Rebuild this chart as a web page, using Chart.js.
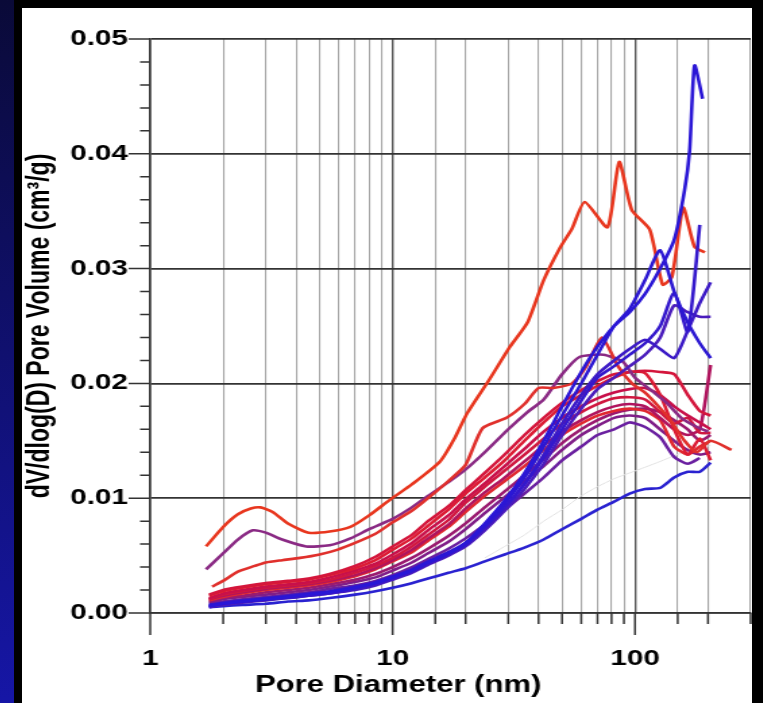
<!DOCTYPE html>
<html>
<head>
  <title>Pore Size Distribution</title>
  <style>
    body { margin: 0; width: 763px; height: 703px; background: #000; position: relative; overflow: hidden; }
    .strip { position: absolute; left: 0; top: 0; width: 14px; height: 703px; background: linear-gradient(#0a0a38, #1616a6); }
    .panel { position: absolute; left: 22px; top: 8px; width: 730px; height: 695px; background: #fff; overflow: hidden; }
    /* the source slide is stretched sideways, so the chart is too */
    .stretch { width: 541px; height: 695px; transform: scaleX(1.3494); transform-origin: 0 0; }
    #chart { display: block; }
  </style>
</head>
<body>
  <div class="strip"></div>
  <div class="panel"><div class="stretch"><canvas id="chart" width="541" height="695"></canvas></div></div>
  <script src="https://cdn.jsdelivr.net/npm/chart.js"></script>
  <script>
    // shared diameter grid (nm) for most samples
    const diam = [1.75, 2.0, 2.4, 3.0, 3.7, 4.5, 5.5, 7, 8.5, 10, 12, 14, 17, 20, 24, 29, 35, 42, 50, 60, 70, 82, 95, 110, 127, 145, 165, 185, 205, 250];

    // dV/dlog(D) values on the shared grid
    const vR1 = [.0016, .0020, .0023, .0026, .0028, .0030, .0034, .0041, .0049, .0058, .0068, .0080, .0093, .0107, .0122, .0138, .0155, .0170, .0183, .0194, .0202, .0208, .0210, .0211, .0210, .0208, .0190, .0176, .0172, null];
    const vR2 = [.0015, .0019, .0022, .0025, .0027, .0029, .0033, .0039, .0046, .0055, .0065, .0076, .0090, .0104, .0118, .0133, .0150, .0166, .0180, .0190, .0198, .0205, .0210, .0209, .0190, .0160, .0138, .0152, .0133, null];
    const vR3 = [.0013, .0017, .0020, .0023, .0025, .0027, .0031, .0037, .0043, .0051, .0061, .0072, .0085, .0099, .0113, .0128, .0143, .0158, .0170, .0180, .0187, .0192, .0195, .0196, .0190, .0180, .0172, .0166, .0160, null];
    const vR4 = [.0012, .0016, .0019, .0022, .0024, .0026, .0029, .0035, .0041, .0048, .0058, .0068, .0081, .0096, .0110, .0124, .0138, .0152, .0165, .0175, .0182, .0187, .0188, .0186, .0175, .0165, .0170, .0157, .0157, null];
    const vR5 = [.0012, .0015, .0018, .0021, .0023, .0025, .0028, .0033, .0039, .0046, .0055, .0065, .0077, .0091, .0105, .0118, .0132, .0146, .0158, .0168, .0175, .0180, .0182, .0180, .0170, .0160, .0155, .0160, .0216, null];
    const vR6 = [.0011, .0014, .0017, .0020, .0022, .0024, .0027, .0032, .0038, .0045, .0053, .0063, .0075, .0088, .0102, .0115, .0128, .0142, .0155, .0165, .0172, .0176, .0178, .0176, .0168, .0145, .0138, .0145, .0150, null];
    const vP1 = [.0010, .0013, .0015, .0018, .0020, .0022, .0025, .0029, .0034, .0040, .0048, .0056, .0067, .0078, .0092, .0106, .0120, .0134, .0148, .0160, .0168, .0174, .0177, .0178, .0175, .0168, .0160, .0150, .0155, null];
    const vP2 = [.0009, .0012, .0014, .0016, .0018, .0020, .0023, .0027, .0031, .0037, .0044, .0052, .0062, .0073, .0087, .0101, .0115, .0128, .0142, .0155, .0163, .0170, .0172, .0170, .0160, .0150, .0142, .0138, .0140, null];
    const vP3 = [.0008, .0010, .0012, .0014, .0016, .0018, .0021, .0024, .0028, .0033, .0040, .0047, .0056, .0065, .0077, .0090, .0104, .0118, .0133, .0145, .0155, .0160, .0166, .0162, .0153, .0136, .0130, .0135, null, null];
    const vU1 = [.0007, .0009, .0011, .0013, .0015, .0017, .0019, .0023, .0027, .0032, .0038, .0045, .0053, .0061, .0075, .0092, .0112, .0135, .0160, .0185, .0205, .0215, .0225, .0235, .0250, .0279, .0245, .0338, null, null];
    const vU2 = [.0006, .0008, .0010, .0012, .0014, .0016, .0018, .0022, .0026, .0031, .0037, .0044, .0052, .0060, .0076, .0095, .0118, .0145, .0172, .0200, .0225, .0250, .0265, .0290, .0316, .0280, .0253, .0235, .0222, null];
    const vU3 = [.0006, .0008, .0010, .0012, .0013, .0015, .0017, .0021, .0025, .0030, .0036, .0043, .0051, .0059, .0074, .0092, .0113, .0138, .0165, .0190, .0208, .0220, .0230, .0238, .0230, .0222, .0246, .0270, .0288, null];
    const vU4 = [.0005, .0007, .0009, .0011, .0013, .0015, .0017, .0020, .0024, .0029, .0035, .0042, .0050, .0058, .0072, .0089, .0108, .0130, .0155, .0178, .0195, .0205, .0215, .0225, .0240, .0268, .0262, .0258, .0258, null];
    const vZ = [.0005, .0006, .0007, .0008, .0010, .0011, .0013, .0016, .0019, .0022, .0026, .0030, .0035, .0039, .0045, .0051, .0057, .0064, .0073, .0082, .0090, .0097, .0104, .0108, .0109, .0118, .0123, .0123, .0131, null];
    const vGhost = [null, null, null, null, null, null, null, null, null, null, null, null, null, null, .0048, .0058, .0068, .0080, .0090, .0102, .0110, .0117, .0122, .0127, .0132, .0137, .0141, .0144, .0146, null];

    // samples with their own diameter points
    const dA = [1.7, 2.0, 2.3, 2.6, 2.85, 3.2, 3.7, 4.5, 5.5, 6.7, 8, 9.8, 12, 15.7, 18, 20.3, 25, 30.5, 36, 42, 49, 55, 62, 77, 86, 97, 115, 130, 142, 158, 176, 194];
    const vA = [.0058, .0075, .0086, .0091, .0092, .0088, .0078, .0070, .0071, .0075, .0085, .0099, .0112, .0132, .0152, .0174, .0203, .0232, .0253, .0290, .0318, .0335, .0358, .0336, .0393, .0351, .0334, .0286, .0293, .0353, .0319, .0314];
    const dB = [1.7, 2.0, 2.3, 2.65, 3.0, 3.5, 4.4, 5.5, 6.7, 8, 10, 12, 14, 17, 20, 24, 30, 36, 42, 50, 59, 74, 89, 100, 115, 135, 155, 180, 200];
    const vB = [.0038, .0052, .0064, .0072, .0070, .0064, .0058, .0059, .0065, .0073, .0082, .0092, .0102, .0114, .0125, .0140, .0160, .0175, .0186, .0208, .0223, .0225, .0219, .0205, .0195, .0183, .0170, .0162, .0158];
    const dC = [1.8, 2.0, 2.3, 2.7, 3.0, 3.5, 4.15, 5, 5.9, 7, 8.5, 10, 12, 14, 17, 20, 23.5, 29.5, 35, 40, 46, 55, 63, 73, 85, 97, 110, 125, 140, 160, 180, 205, 250];
    const vC = [.0023, .0028, .0036, .0041, .0044, .0046, .0048, .0051, .0055, .0061, .0069, .0079, .0089, .0100, .0115, .0129, .0161, .0170, .0182, .0196, .0196, .0200, .0215, .0240, .0215, .0200, .0192, .0180, .0168, .0150, .0140, .0150, .0142];
    const dU0 = [1.75, 2.0, 2.4, 3.0, 3.7, 4.5, 5.5, 7, 8.5, 10, 12, 14, 17, 20, 24, 29, 35, 42, 50, 60, 70, 82, 95, 110, 127, 145, 160, 168, 176, 190];
    const vU0 = [.0006, .0008, .0010, .0012, .0014, .0016, .0018, .0022, .0026, .0031, .0037, .0044, .0052, .0061, .0078, .0098, .0122, .0150, .0180, .0210, .0232, .0250, .0262, .0278, .0300, .0325, .0368, .0403, .0477, .0448];

    const xLabelValues = [1, 10, 100];
    const yTickValues = [0, 0.01, 0.02, 0.03, 0.04, 0.05];
    const xTitle = 'Pore Diameter (nm)';
    const yTitle = 'dV/dlog(D) Pore Volume (cm³/g)';
    const font = 'Liberation Sans, Arial, sans-serif';

    function pts(d, v) {
      const out = [];
      for (let i = 0; i < d.length && i < v.length; i++) {
        if (v[i] !== null) out.push({ x: d[i], y: v[i] });
      }
      return out;
    }

    function series(label, d, v, color, width) {
      return {
        label: label,
        data: pts(d, v),
        borderColor: color,
        borderWidth: width || 2.6,
        showLine: true,
        pointRadius: 0,
        tension: 0.2,
        fill: false
      };
    }

    // blue samples first so they sit on top
    const datasets = [
      series('U0', dU0, vU0, '#2a16d6'),
      series('U2', diam, vU2, '#2c18d2'),
      series('U1', diam, vU1, '#3418cc'),
      series('U3', diam, vU3, '#3c1ac6'),
      series('U4', diam, vU4, '#4a1cbc'),
      series('Z', diam, vZ, '#2a22d0'),
      series('A', dA, vA, '#e8361e'),
      series('C', dC, vC, '#e0302c'),
      series('B', dB, vB, '#8a2a84'),
      series('R1', diam, vR1, '#d4163c'),
      series('R2', diam, vR2, '#dc1c34'),
      series('R3', diam, vR3, '#c8104a'),
      series('R4', diam, vR4, '#d01840'),
      series('R5', diam, vR5, '#b0145e'),
      series('R6', diam, vR6, '#e02830'),
      series('P1', diam, vP1, '#9a1a70'),
      series('P2', diam, vP2, '#801e88'),
      series('P3', diam, vP3, '#6a20a0'),
      series('ghost', diam, vGhost, '#e2e2e2', 1)
    ];

    // outside tick marks (long at labelled values) and the x title, which sits left of centre
    const axisExtras = {
      id: 'axisExtras',
      afterDraw(chart) {
        const ctx = chart.ctx;
        const xs = chart.scales.x, ys = chart.scales.y;
        ctx.save();
        ctx.strokeStyle = '#333';
        ctx.lineWidth = 1.5;
        ctx.beginPath();
        for (let i = 0; i <= 25; i++) {
          const py = ys.getPixelForValue(i * 0.002);
          const len = i % 5 === 0 ? 16 : 7.5;
          ctx.moveTo(xs.left - len, py);
          ctx.lineTo(xs.left, py);
        }
        xs.ticks.forEach(t => {
          const px = xs.getPixelForValue(t.value);
          const len = xLabelValues.includes(t.value) ? 22 : 11;
          ctx.moveTo(px, ys.bottom);
          ctx.lineTo(px, ys.bottom + len);
        });
        ctx.stroke();
        ctx.fillStyle = '#000';
        ctx.font = 'bold 23px ' + font;
        ctx.textAlign = 'center';
        ctx.textBaseline = 'middle';
        ctx.fillText(xTitle, xs.left + 0.413 * xs.width, 678);
        ctx.restore();
      }
    };

    const isDecade = v => Math.abs(Math.log10(v) - Math.round(Math.log10(v))) < 1e-6;

    new Chart(document.getElementById('chart'), {
      type: 'scatter',
      data: { datasets: datasets },
      options: {
        responsive: false,
        animation: false,
        layout: { padding: { top: 31, right: 1, left: 0, bottom: 0 } },
        plugins: { legend: { display: false }, tooltip: { enabled: false } },
        scales: {
          x: {
            type: 'logarithmic',
            min: 1,
            max: 300,
            afterFit: s => { s.height = 90; s.paddingLeft = 0; s.paddingRight = 0; },
            border: { color: '#333', width: 1.6 },
            grid: {
              drawTicks: false,
              color: c => isDecade(c.tick.value) ? '#555' : '#a6a6a6',
              lineWidth: c => isDecade(c.tick.value) ? 1.4 : 1.1
            },
            ticks: {
              autoSkip: false,
              maxRotation: 0,
              padding: 33,
              color: '#000',
              font: { family: font, weight: 'bold', size: 22 },
              callback: v => xLabelValues.includes(v) ? String(v) : ''
            }
          },
          y: {
            min: 0,
            max: 0.05,
            afterFit: s => { s.width = 95; },
            afterBuildTicks: s => { s.ticks = yTickValues.map(v => ({ value: v })); },
            border: { color: '#333', width: 1.6 },
            grid: { drawTicks: false, color: '#333', lineWidth: 1.7 },
            ticks: {
              padding: 16.5,
              color: '#000',
              font: { family: font, weight: 'bold', size: 22 },
              callback: v => v.toFixed(2)
            },
            title: {
              display: true,
              text: yTitle,
              color: '#000',
              padding: { top: 0, bottom: 0 },
              font: { family: font, weight: 'bold', size: 23 }
            }
          }
        }
      },
      plugins: [axisExtras]
    });
  </script>
</body>
</html>
